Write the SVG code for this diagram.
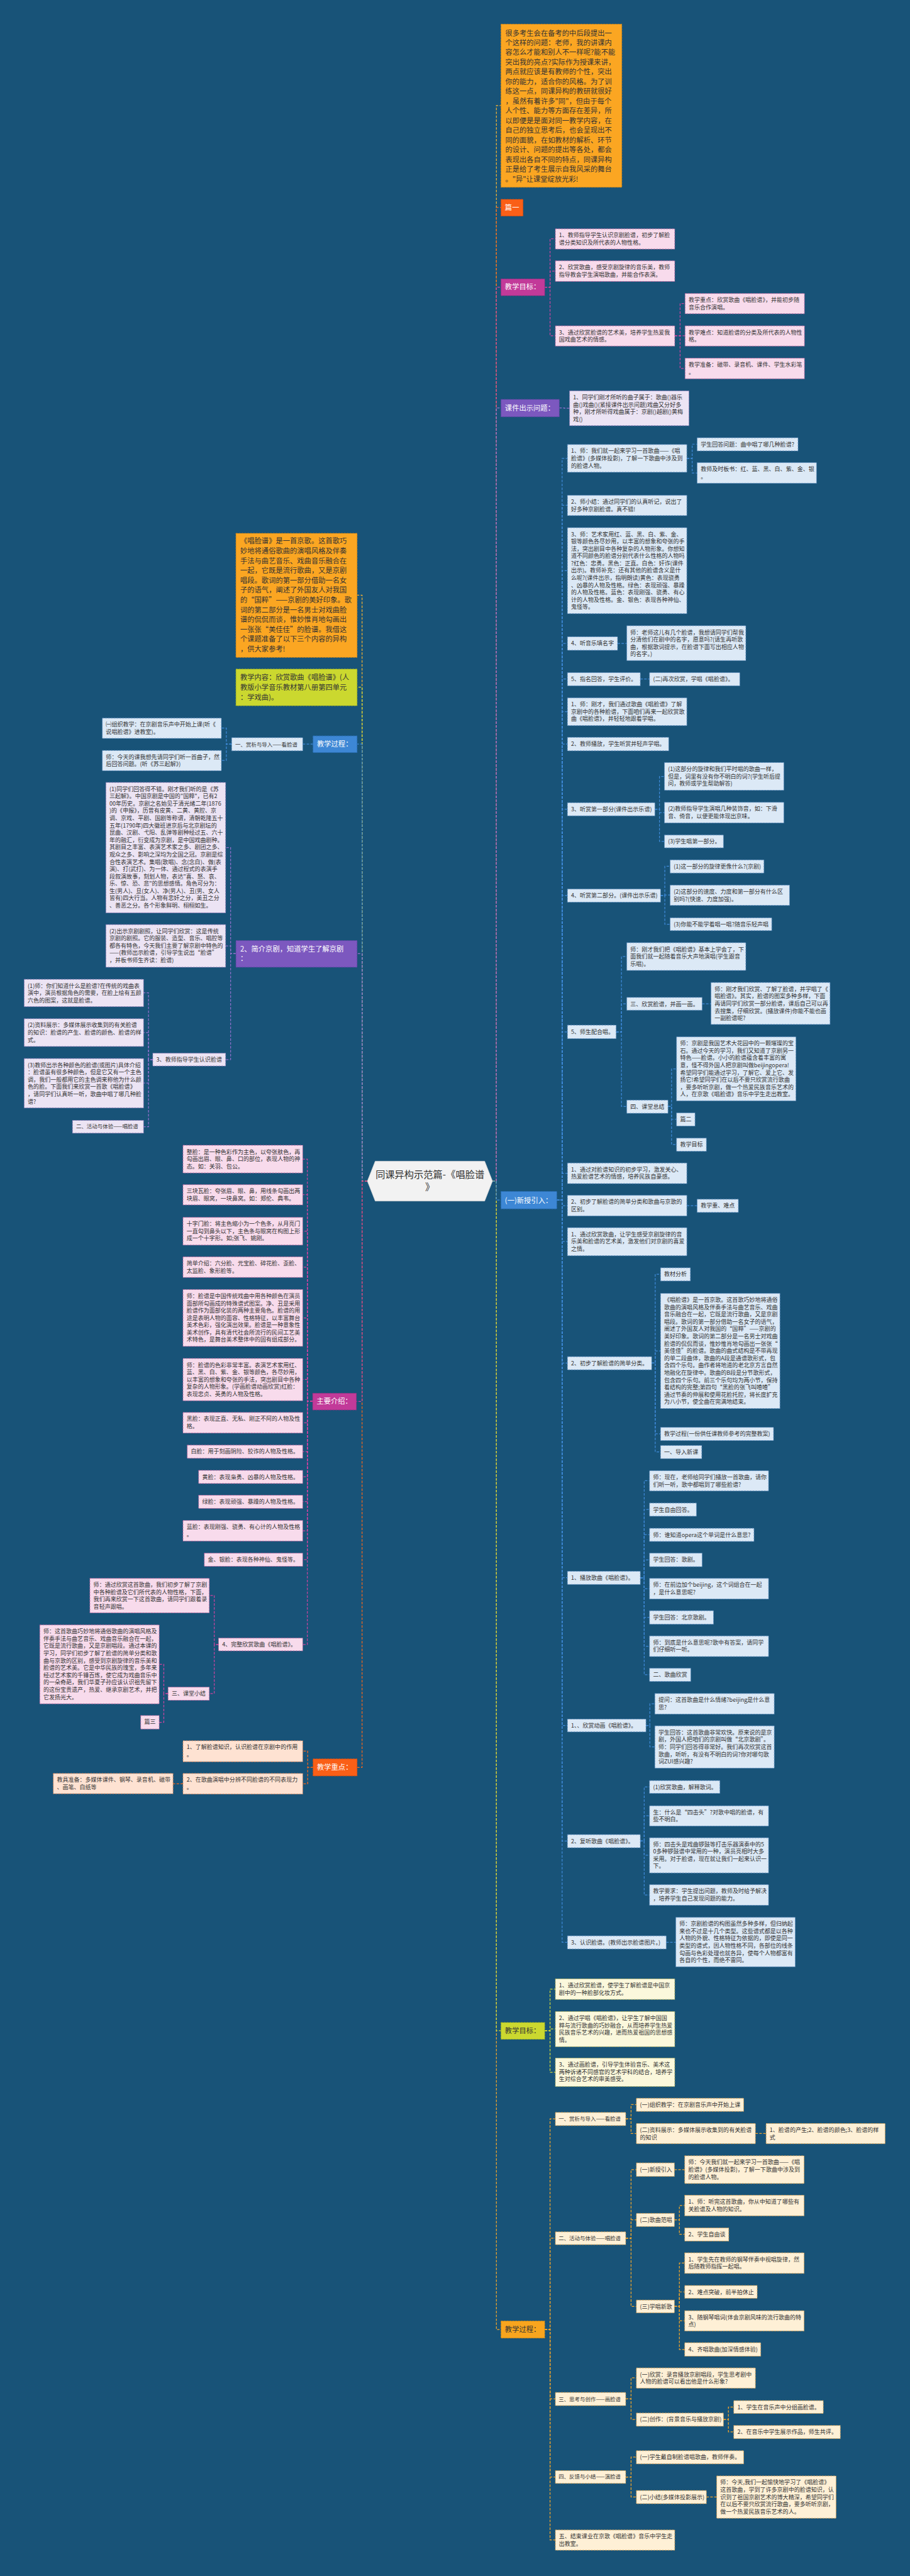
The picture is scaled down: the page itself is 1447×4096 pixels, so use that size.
<svg xmlns="http://www.w3.org/2000/svg" width="1447" height="4096" viewBox="0 0 1447 4096">
<style>
text{font-family:"Noto Sans CJK SC","Noto Sans CJK JP","Noto Sans",sans-serif;font-size:16px;fill:#333}
.w{fill:#fff}
.h{font-size:20px}
.m{font-size:15px}
.ct{font-size:27px;fill:#333}
rect{stroke-width:1.6;stroke-dasharray:5 3}
.pk{fill:#f8dbec;stroke:#b7619d}
.lb{fill:#dce9f6;stroke:#5f8fc2}
.lv{fill:#ece4f4;stroke:#8f78b8}
.ly{fill:#fbf8dc;stroke:#b3b25c}
.cr{fill:#fef0d6;stroke:#d49c4e}
.pc{fill:#fee2d2;stroke:#d6845a}
.f-or{fill:#fba622;stroke:#dd8a12}
.f-rd{fill:#fa5f17;stroke:#d94a0c}
.f-mg{fill:#c23a99;stroke:#a02a80}
.f-pu{fill:#7c58bf;stroke:#6342a3}
.f-bl{fill:#3d87d5;stroke:#2a6fb8}
.f-yg{fill:#cbd82f;stroke:#a9b61e}
.f-og{fill:#f8a51e;stroke:#d98b10}
.cn path{fill:none;stroke-width:2.2;stroke-dasharray:7 4}
.k-or path{stroke:#f2b134}
.k-rd path{stroke:#f4661c}
.k-mg path{stroke:#c9449f}
.k-pu path{stroke:#9070cc}
.k-bl path{stroke:#3f8ad8}
.k-yg path{stroke:#cdd83a}
.k-og path{stroke:#f3a52a}
</style>
<rect x="0" y="0" width="1447" height="4096" fill="#185378" style="stroke:none"/>
<g transform="scale(0.565)">

<g id="connectors" class="cn">
<g class="k-or"><path d="M1386 3324H1397V297H1410"/><path d="M1034 3324H1019V1675H1005"/></g>
<g class="k-rd"><path d="M1386 3324H1397V584H1410"/></g>
<g class="k-mg"><path d="M1386 3324H1397V808H1410"/>
<path d="M1533 808H1548V672H1563"/><path d="M1533 808H1548V763H1563"/><path d="M1533 808H1548V945H1563"/>
<path d="M1899 945H1914V854H1928"/><path d="M1899 945H1914V945H1928"/><path d="M1899 945H1914V1037H1928"/></g>
<g class="k-pu"><path d="M1386 3324H1397V1148H1410"/><path d="M1574 1148H1588V1149H1603"/></g>
<g class="k-yg"><path d="M1034 3324H1019V1934H1005"/></g>
<g class="k-bl"><path d="M1034 3324H1019V2094H1005"/><path d="M881 2094H852"/>
<path d="M652 2094H637V2049H623"/><path d="M652 2094H637V2140H623"/></g>
<g class="k-pu"><path d="M1034 3324H1019V2684H1005"/>
<path d="M664 2684H649V2385H635"/><path d="M664 2684H649V2662H635"/><path d="M664 2684H649V2982H635"/>
<path d="M430 2982H418V2794H404"/><path d="M430 2982H418V2906H404"/><path d="M430 2982H418V3048H404"/><path d="M430 2982H418V3171H404"/></g>
<g class="k-rd"><path d="M1034 3324H1019V4974H1005"/>
<path d="M881 4974H866V4928H852"/><path d="M881 4974H866V5020H852"/><path d="M515 5020H487"/></g>
<g class="k-mg"><path d="M1034 3324H1019V3944H1003"/>
<path d="M880 3944H865V3262H852"/><path d="M880 3944H865V3362H852"/><path d="M880 3944H865V3465H852"/><path d="M880 3944H865V3566H852"/><path d="M880 3944H865V3709H852"/><path d="M880 3944H865V3882H852"/><path d="M880 3944H865V4004H852"/><path d="M880 3944H865V4085H852"/><path d="M880 3944H865V4156H852"/><path d="M880 3944H865V4226H852"/><path d="M880 3944H865V4308H852"/><path d="M880 3944H865V4389H852"/><path d="M880 3944H865V4628H852"/>
<path d="M615 4628H603V4490H589"/><path d="M615 4628H603V4766H589"/>
<path d="M473 4766H461V4684H448"/><path d="M473 4766H461V4847H448"/></g>
<g class="k-og"><path d="M1386 3324H1397V6556H1410"/>
<path d="M1533 6556H1548V5963H1563"/><path d="M1533 6556H1548V6299H1563"/><path d="M1533 6556H1548V6751H1563"/><path d="M1533 6556H1548V6971H1563"/><path d="M1533 6556H1548V7148H1563"/>
<path d="M1761 5963H1776V5923H1791"/><path d="M1761 5963H1776V6004H1791"/><path d="M2126 6004H2156"/>
<path d="M1761 6299H1776V6106H1791"/><path d="M1761 6299H1776V6247H1791"/><path d="M1761 6299H1776V6491H1791"/>
<path d="M1898 6106H1927"/>
<path d="M1898 6247H1912V6207H1927"/><path d="M1898 6247H1912V6288H1927"/>
<path d="M1898 6491H1912V6369H1927"/><path d="M1898 6491H1912V6450H1927"/><path d="M1898 6491H1912V6531H1927"/><path d="M1898 6491H1912V6612H1927"/>
<path d="M1761 6751H1776V6692H1791"/><path d="M1761 6751H1776V6809H1791"/>
<path d="M2036 6809H2050V6774H2065"/><path d="M2036 6809H2050V6844H2065"/>
<path d="M1761 6971H1776V6915H1791"/><path d="M1761 6971H1776V7027H1791"/><path d="M1988 7027H2017"/></g>
<g class="k-yg"><path d="M1386 3324H1397V5715H1410"/>
<path d="M1533 5715H1548V5598H1563"/><path d="M1533 5715H1548V5710H1563"/><path d="M1533 5715H1548V5832H1563"/></g>
<g class="k-bl"><path d="M1386 3324H1397V3377H1410"/>
<path d="M1567 3377H1582V1290H1597"/><path d="M1567 3377H1582V1422H1597"/><path d="M1567 3377H1582V1606H1597"/><path d="M1567 3377H1582V1811H1597"/><path d="M1567 3377H1582V1911H1597"/><path d="M1567 3377H1582V2003H1597"/><path d="M1567 3377H1582V2094H1597"/><path d="M1567 3377H1582V2277H1597"/><path d="M1567 3377H1582V2520H1597"/><path d="M1567 3377H1582V2904H1597"/><path d="M1567 3377H1582V3302H1597"/><path d="M1567 3377H1582V3393H1597"/><path d="M1567 3377H1582V3494H1597"/><path d="M1567 3377H1582V3836H1597"/><path d="M1567 3377H1582V4440H1597"/><path d="M1567 3377H1582V4856H1597"/><path d="M1567 3377H1582V5181H1597"/><path d="M1567 3377H1582V5466H1597"/>
<path d="M1933 1290H1948V1250H1962"/><path d="M1933 1290H1948V1331H1962"/>
<path d="M1738 1811H1764"/>
<path d="M1802 1911H1828"/>
<path d="M1843 2277H1856V2185H1870"/><path d="M1843 2277H1856V2287H1870"/><path d="M1843 2277H1856V2368H1870"/>
<path d="M1859 2520H1871V2438H1886"/><path d="M1859 2520H1871V2519H1886"/><path d="M1859 2520H1871V2601H1886"/>
<path d="M1734 2904H1749V2692H1764"/><path d="M1734 2904H1749V2825H1764"/><path d="M1734 2904H1749V3114H1764"/>
<path d="M1976 2825H2001"/>
<path d="M1880 3114H1890V3008H1904"/><path d="M1880 3114H1890V3150H1904"/><path d="M1880 3114H1890V3221H1904"/>
<path d="M1933 3393H1962"/>
<path d="M1834 3836H1844V3586H1859"/><path d="M1834 3836H1844V3802H1859"/><path d="M1834 3836H1844V4035H1859"/><path d="M1834 3836H1844V4086H1859"/>
<path d="M1802 4440H1813V4167H1828"/><path d="M1802 4440H1813V4248H1828"/><path d="M1802 4440H1813V4319H1828"/><path d="M1802 4440H1813V4390H1828"/><path d="M1802 4440H1813V4471H1828"/><path d="M1802 4440H1813V4552H1828"/><path d="M1802 4440H1813V4633H1828"/><path d="M1802 4440H1813V4713H1828"/>
<path d="M1818 4856H1829V4795H1843"/><path d="M1818 4856H1829V4916H1843"/>
<path d="M1802 5181H1813V5029H1828"/><path d="M1802 5181H1813V5110H1828"/><path d="M1802 5181H1813V5221H1828"/><path d="M1802 5181H1813V5333H1828"/>
<path d="M1875 5466H1902"/></g>
</g>

<g id="root"><polygon points="1056,3268 1364,3268 1386,3324 1364,3380 1056,3380 1034,3324" fill="#f2f2f2" stroke="#d8d8d8" stroke-width="1.5"/>
<text class="ct" x="1210" y="3315" text-anchor="middle">同课异构示范篇-《唱脸谱<tspan x="1210" dy="36">》</tspan></text></g>

<g id="n-intro"><rect class="f-or" x="1410" y="68" width="340" height="459"/>
<text class="h" x="1422" y="100">很多考生会在备考的中后段提出一<tspan x="1422" dy="27.4">个这样的问题：老师，我的讲课内</tspan><tspan x="1422" dy="27.4">容怎么才能和别人不一样呢?能不能</tspan><tspan x="1422" dy="27.4">突出我的亮点?实际作为授课来讲，</tspan><tspan x="1422" dy="27.4">两点就应该是有教师的个性，突出</tspan><tspan x="1422" dy="27.4">你的能力，适合你的风格。为了训</tspan><tspan x="1422" dy="27.4">练这一点，同课异构的教研就很好</tspan><tspan x="1422" dy="27.4">，虽然有着许多"同"，但由于每个</tspan><tspan x="1422" dy="27.4">人个性、能力等方面存在差异，所</tspan><tspan x="1422" dy="27.4">以即便是是面对同一教学内容，在</tspan><tspan x="1422" dy="27.4">自己的独立思考后，也会呈现出不</tspan><tspan x="1422" dy="27.4">同的面貌，在如教材的解析、环节</tspan><tspan x="1422" dy="27.4">的设计、问题的提出等各处，都会</tspan><tspan x="1422" dy="27.4">表现出各自不同的特点，同课异构</tspan><tspan x="1422" dy="27.4">正是给了考生展示自我风采的舞台</tspan><tspan x="1422" dy="27.4">。"异"让课堂绽放光彩!</tspan></text></g>
<g id="n-p1"><rect class="f-rd" x="1410" y="561" width="62" height="47"/><text class="h w" x="1421" y="591">篇一</text></g>
<g id="n-goal1"><rect class="f-mg" x="1410" y="785" width="123" height="47"/><text class="h w" x="1421" y="815">教学目标：</text></g>
<g id="n-g1a"><rect class="pk" x="1563" y="644" width="336" height="57"/><text x="1573" y="668">1、教师指导学生认识京剧脸谱，初步了解脸<tspan x="1573" dy="20.5">谱分类知识及所代表的人物性格。</tspan></text></g>
<g id="n-g1b"><rect class="pk" x="1563" y="734" width="336" height="58"/><text x="1573" y="758">2、欣赏歌曲，感受京剧旋律的音乐美，教师<tspan x="1573" dy="20.5">指导教会学生演唱歌曲，并能合作表演。</tspan></text></g>
<g id="n-g1c"><rect class="pk" x="1563" y="917" width="336" height="57"/><text x="1573" y="941">3、通过欣赏脸谱的艺术美，培养学生热爱我<tspan x="1573" dy="20.5">国戏曲艺术的情感。</tspan></text></g>
<g id="n-g1c1"><rect class="pk" x="1928" y="826" width="336" height="57"/><text x="1938" y="850">教学重点：欣赏歌曲《唱脸谱》，并能初步随<tspan x="1938" dy="20.5">音乐合作演唱。</tspan></text></g>
<g id="n-g1c2"><rect class="pk" x="1928" y="917" width="336" height="57"/><text x="1938" y="941">教学难点：知道脸谱的分类及所代表的人物性<tspan x="1938" dy="20.5">格。</tspan></text></g>
<g id="n-g1c3"><rect class="pk" x="1928" y="1008" width="336" height="58"/><text x="1938" y="1032">教学准备：磁带、录音机、课件、学生水彩笔<tspan x="1938" dy="20.5">。</tspan></text></g>

<g id="n-kj"><rect class="f-pu" x="1410" y="1124" width="164" height="49"/><text class="h w" x="1421" y="1156">课件出示问题：</text></g>
<g id="n-kj1"><rect class="lv" x="1603" y="1100" width="336" height="98"/><text x="1613" y="1124">1、同学们刚才所听的曲子属于：歌曲()器乐<tspan x="1613" dy="20.5">曲()戏曲()(紧接课件出示问题)戏曲又分好多</tspan><tspan x="1613" dy="20.5">种，刚才所听得戏曲属于：京剧()越剧()黄梅</tspan><tspan x="1613" dy="20.5">戏()</tspan></text></g>

<g id="n-xs"><rect class="f-bl" x="1410" y="3353" width="157" height="49"/><text class="h w" x="1421" y="3385">(一)新授引入：</text></g>
<g id="n-b1"><rect class="lb" x="1597" y="1251" width="336" height="78"/><text x="1607" y="1275">1、师：我们就一起来学习一首歌曲——《唱<tspan x="1607" dy="20.5">脸谱》(多媒体投影)，了解一下歌曲中涉及到</tspan><tspan x="1607" dy="20.5">的脸谱人物。</tspan></text></g>
<g id="n-b1a"><rect class="lb" x="1962" y="1232" width="284" height="37"/><text x="1972" y="1256">学生回答问题：曲中唱了哪几种脸谱?</text></g>
<g id="n-b1b"><rect class="lb" x="1962" y="1302" width="336" height="58"/><text x="1972" y="1326">教师及时板书：红、蓝、黑、白、紫、金、银<tspan x="1972" dy="20.5">。</tspan></text></g>
<g id="n-b2"><rect class="lb" x="1597" y="1394" width="336" height="57"/><text x="1607" y="1418">2、师小结：通过同学们的认真听记，说出了<tspan x="1607" dy="20.5">好多种京剧脸谱。真不错!</tspan></text></g>
<g id="n-b3"><rect class="lb" x="1597" y="1485" width="336" height="242"/><text x="1607" y="1509">3、师：艺术家用红、蓝、黑、白、紫、金、<tspan x="1607" dy="20.5">银等颜色各尽妙用，以丰富的想象和夸张的手</tspan><tspan x="1607" dy="20.5">法，突出剧目中各种复杂的人物形象。你想知</tspan><tspan x="1607" dy="20.5">道不同颜色的脸谱分别代表什么性格的人物吗</tspan><tspan x="1607" dy="20.5">?红色：忠勇。黑色：正直。白色：奸诈(课件</tspan><tspan x="1607" dy="20.5">出示)。教师补充：还有其他的脸谱含义是什</tspan><tspan x="1607" dy="20.5">么呢?(课件出示，指明朗读)黄色：表现骁勇</tspan><tspan x="1607" dy="20.5">、凶暴的人物及性格。绿色：表现顽强、暴躁</tspan><tspan x="1607" dy="20.5">的人物及性格。蓝色：表现刚强、骁勇、有心</tspan><tspan x="1607" dy="20.5">计的人物及性格。金、银色：表现各种神仙、</tspan><tspan x="1607" dy="20.5">鬼怪等。</tspan></text></g>
<g id="n-b4"><rect class="lb" x="1597" y="1792" width="141" height="38"/><text x="1607" y="1816">4、听音乐填名字</text></g>
<g id="n-b4a"><rect class="lb" x="1764" y="1761" width="335" height="98"/><text x="1774" y="1785">师：老师这儿有几个脸谱，我想请同学们帮我<tspan x="1774" dy="20.5">分清他们在剧中的名字，愿意吗?(请生再听歌</tspan><tspan x="1774" dy="20.5">曲，根据歌词提示，在脸谱下面写出相应人物</tspan><tspan x="1774" dy="20.5">的名字。)</tspan></text></g>
<g id="n-b5"><rect class="lb" x="1597" y="1893" width="205" height="37"/><text x="1607" y="1917">5、指名回答，学生评价。</text></g>
<g id="n-b5a"><rect class="lb" x="1828" y="1893" width="254" height="37"/><text x="1838" y="1917">(二)再次欣赏，学唱《唱脸谱》。</text></g>
<g id="n-b6"><rect class="lb" x="1597" y="1964" width="336" height="78"/><text x="1607" y="1988">1、师：刚才，我们通过歌曲《唱脸谱》了解<tspan x="1607" dy="20.5">京剧中的各种脸谱，下面咱们再来一起欣赏歌</tspan><tspan x="1607" dy="20.5">曲《唱脸谱》，并轻轻地跟着学唱。</tspan></text></g>
<g id="n-b7"><rect class="lb" x="1597" y="2075" width="285" height="38"/><text x="1607" y="2099">2、教师播放，学生听赏并轻声学唱。</text></g>
<g id="n-b8"><rect class="lb" x="1597" y="2259" width="246" height="37"/><text x="1607" y="2283">3、听赏第一部分(课件出示乐谱)</text></g>
<g id="n-b8a"><rect class="lb" x="1870" y="2146" width="336" height="78"/><text x="1880" y="2170">(1)这部分的旋律和我们平时唱的歌曲一样，<tspan x="1880" dy="20.5">但是，词里有没有你不明白的词?(学生听后提</tspan><tspan x="1880" dy="20.5">问，教师或学生帮助解答)</tspan></text></g>
<g id="n-b8b"><rect class="lb" x="1870" y="2258" width="336" height="58"/><text x="1880" y="2282">(2)教师指导学生演唱几种装饰音，如：下滑<tspan x="1880" dy="20.5">音、倚音，以便更能体现出京味。</tspan></text></g>
<g id="n-b8c"><rect class="lb" x="1870" y="2350" width="166" height="36"/><text x="1880" y="2374">(3)学生唱第一部分。</text></g>
<g id="n-b9"><rect class="lb" x="1597" y="2502" width="262" height="37"/><text x="1607" y="2526">4、听赏第二部分。(课件出示乐谱)</text></g>
<g id="n-b9a"><rect class="lb" x="1886" y="2420" width="264" height="37"/><text x="1896" y="2444">(1)这一部分的旋律更像什么?(京剧)</text></g>
<g id="n-b9b"><rect class="lb" x="1886" y="2491" width="336" height="57"/><text x="1896" y="2515">(2)这部分的速度、力度和第一部分有什么区<tspan x="1896" dy="20.5">别吗?(快速、力度加强)。</tspan></text></g>
<g id="n-b9c"><rect class="lb" x="1886" y="2583" width="286" height="36"/><text x="1896" y="2607">(3)你能不能学着唱一唱?随音乐轻声唱</text></g>
<g id="n-b10"><rect class="lb" x="1597" y="2885" width="137" height="38"/><text x="1607" y="2909">5、师生配合唱。</text></g>
<g id="n-b10a"><rect class="lb" x="1764" y="2653" width="335" height="78"/><text x="1774" y="2677">师：刚才我们把《唱脸谱》基本上学会了，下<tspan x="1774" dy="20.5">面我们就一起随着音乐大声地演唱(学生跟音</tspan><tspan x="1774" dy="20.5">乐唱)。</tspan></text></g>
<g id="n-b10b"><rect class="lb" x="1764" y="2807" width="212" height="36"/><text x="1774" y="2831">三、欣赏脸谱，并画一画。</text></g>
<g id="n-b10b1"><rect class="lb" x="2001" y="2765" width="335" height="118"/><text x="2011" y="2789">师：刚才我们欣赏、了解了脸谱，并学唱了《<tspan x="2011" dy="20.5">唱脸谱》。其实，脸谱的图案多种多样，下面</tspan><tspan x="2011" dy="20.5">再请同学们欣赏一部分脸谱，课后自己可以再</tspan><tspan x="2011" dy="20.5">去搜集，仔细欣赏。(播放课件)你能不能也画</tspan><tspan x="2011" dy="20.5">一副脸谱呢?</tspan></text></g>
<g id="n-b10c"><rect class="lb" x="1764" y="3096" width="116" height="37"/><text x="1774" y="3120">四、课堂总结</text></g>
<g id="n-b10c1"><rect class="lb" x="1904" y="2918" width="336" height="180"/><text x="1914" y="2942">师：京剧是我国艺术大花园中的一颗璀璨的宝<tspan x="1914" dy="20.5">石。通过今天的学习，我们又知道了京剧另一</tspan><tspan x="1914" dy="20.5">特色——脸谱。小小的脸谱蕴含着丰富的寓</tspan><tspan x="1914" dy="20.5">意，怪不得外国人把京剧叫做beijingopera!</tspan><tspan x="1914" dy="20.5">希望同学们能通过学习，了解它、爱上它、发</tspan><tspan x="1914" dy="20.5">扬它!希望同学们在以后不要只欣赏流行歌曲</tspan><tspan x="1914" dy="20.5">，要多听听京剧，做一个热爱民族音乐艺术的</tspan><tspan x="1914" dy="20.5">人，在京歌《唱脸谱》音乐中学生走出教室。</tspan></text></g>
<g id="n-b10c2"><rect class="lb" x="1904" y="3132" width="52" height="37"/><text x="1914" y="3156">篇二</text></g>
<g id="n-b10c3"><rect class="lb" x="1904" y="3203" width="84" height="37"/><text x="1914" y="3227">教学目标</text></g>
<g id="n-b11"><rect class="lb" x="1597" y="3273" width="336" height="58"/><text x="1607" y="3297">1、通过对脸谱知识的初步学习，激发关心、<tspan x="1607" dy="20.5">热爱脸谱艺术的情感，培养民族自豪感。</tspan></text></g>
<g id="n-b12"><rect class="lb" x="1597" y="3364" width="336" height="58"/><text x="1607" y="3388">2、初步了解脸谱的简单分类和歌曲与京歌的<tspan x="1607" dy="20.5">区别。</tspan></text></g>
<g id="n-b12a"><rect class="lb" x="1962" y="3375" width="116" height="37"/><text x="1972" y="3399">教学重、难点</text></g>
<g id="n-b13"><rect class="lb" x="1597" y="3455" width="336" height="79"/><text x="1607" y="3479">1、通过欣赏歌曲，让学生感受京剧旋律的音<tspan x="1607" dy="20.5">乐美和脸谱的艺术美，激发他们对京剧的喜爱</tspan><tspan x="1607" dy="20.5">之情。</tspan></text></g>
<g id="n-b14"><rect class="lb" x="1597" y="3818" width="237" height="37"/><text x="1607" y="3842">2、初步了解脸谱的简单分类。</text></g>
<g id="n-b14a"><rect class="lb" x="1859" y="3568" width="84" height="37"/><text x="1869" y="3592">教材分析</text></g>
<g id="n-b14b"><rect class="lb" x="1859" y="3640" width="336" height="324"/><text x="1869" y="3664">《唱脸谱》是一首京歌。这首歌巧妙地将通俗<tspan x="1869" dy="20.5">歌曲的演唱风格及伴奏手法与曲艺音乐、戏曲</tspan><tspan x="1869" dy="20.5">音乐融合在一起，它既是流行歌曲，又是京剧</tspan><tspan x="1869" dy="20.5">唱段。歌词的第一部分借助一名女子的语气，</tspan><tspan x="1869" dy="20.5">阐述了外国友人对我国的“国粹”——京剧的</tspan><tspan x="1869" dy="20.5">美好印象。歌词的第二部分是一名男士对戏曲</tspan><tspan x="1869" dy="20.5">脸谱的侃侃而谈，惟妙惟肖地勾画出一张张“</tspan><tspan x="1869" dy="20.5">美佳佳”的脸谱。歌曲的曲式结构是不带再现</tspan><tspan x="1869" dy="20.5">的单二段曲体，歌曲的A段是通谱歌形式，包</tspan><tspan x="1869" dy="20.5">含四个乐句。曲作者将地道的老北京方言自然</tspan><tspan x="1869" dy="20.5">地融化在旋律中。歌曲的B段是分节歌形式，</tspan><tspan x="1869" dy="20.5">包含四个乐句。前三个乐句均为两小节，保持</tspan><tspan x="1869" dy="20.5">着结构的完整;第四句“黑脸的张飞叫喳喳”</tspan><tspan x="1869" dy="20.5">通过节奏的伸展和使用花脸托腔，将长度扩充</tspan><tspan x="1869" dy="20.5">为八小节，使全曲在完满地结束。</tspan></text></g>
<g id="n-b14c"><rect class="lb" x="1859" y="4017" width="318" height="37"/><text x="1869" y="4041">教学过程(一份供任课教师参考的完整教案)</text></g>
<g id="n-b14d"><rect class="lb" x="1859" y="4068" width="116" height="37"/><text x="1869" y="4092">一、导入新课</text></g>
<g id="n-b15"><rect class="lb" x="1597" y="4422" width="205" height="37"/><text x="1607" y="4446">1、播放歌曲《唱脸谱》。</text></g>
<g id="n-b15a"><rect class="lb" x="1828" y="4139" width="335" height="57"/><text x="1838" y="4163">师：现在，老师给同学们播放一首歌曲，请你<tspan x="1838" dy="20.5">们听一听，歌中都唱到了哪些脸谱?</tspan></text></g>
<g id="n-b15b"><rect class="lb" x="1828" y="4230" width="132" height="37"/><text x="1838" y="4254">学生自由回答。</text></g>
<g id="n-b15c"><rect class="lb" x="1828" y="4301" width="294" height="37"/><text x="1838" y="4325">师：谁知道opera这个单词是什么意思?</text></g>
<g id="n-b15d"><rect class="lb" x="1828" y="4371" width="148" height="38"/><text x="1838" y="4395">学生回答：歌剧。</text></g>
<g id="n-b15e"><rect class="lb" x="1828" y="4442" width="335" height="58"/><text x="1838" y="4466">师：在前边加个beijing，这个词组合在一起<tspan x="1838" dy="20.5">，是什么意思呢?</tspan></text></g>
<g id="n-b15f"><rect class="lb" x="1828" y="4533" width="180" height="38"/><text x="1838" y="4557">学生回答：北京歌剧。</text></g>
<g id="n-b15g"><rect class="lb" x="1828" y="4604" width="335" height="58"/><text x="1838" y="4628">师：到底是什么意思呢?歌中有答案，请同学<tspan x="1838" dy="20.5">们仔细听一听。</tspan></text></g>
<g id="n-b15h"><rect class="lb" x="1828" y="4695" width="116" height="37"/><text x="1838" y="4719">二、歌曲欣赏</text></g>
<g id="n-b16"><rect class="lb" x="1597" y="4838" width="221" height="36"/><text x="1607" y="4862">1、、欣赏动画《唱脸谱》。</text></g>
<g id="n-b16a"><rect class="lb" x="1843" y="4766" width="336" height="58"/><text x="1853" y="4790">提问：这首歌曲是什么情绪?beijing是什么意<tspan x="1853" dy="20.5">思?</tspan></text></g>
<g id="n-b16b"><rect class="lb" x="1843" y="4857" width="336" height="119"/><text x="1853" y="4881">学生回答：这首歌曲非常欢快。原来说的是京<tspan x="1853" dy="20.5">剧，外国人把咱们的京剧叫做“北京歌剧”。</tspan><tspan x="1853" dy="20.5">师：同学们回答得非常好。我们再次欣赏这首</tspan><tspan x="1853" dy="20.5">歌曲，听听，有没有不明白的词?你对哪句歌</tspan><tspan x="1853" dy="20.5">词ZUI感兴趣?</tspan></text></g>
<g id="n-b17"><rect class="lb" x="1597" y="5163" width="205" height="37"/><text x="1607" y="5187">2、复听歌曲《唱脸谱》。</text></g>
<g id="n-b17a"><rect class="lb" x="1828" y="5011" width="198" height="36"/><text x="1838" y="5035">(1)欣赏歌曲，解释歌词。</text></g>
<g id="n-b17b"><rect class="lb" x="1828" y="5082" width="335" height="57"/><text x="1838" y="5106">生：什么是“四击头”?对歌中唱的脸谱，有<tspan x="1838" dy="20.5">些不明白。</tspan></text></g>
<g id="n-b17c"><rect class="lb" x="1828" y="5172" width="335" height="99"/><text x="1838" y="5196">师：四击头是戏曲锣鼓等打击乐器演奏中的5<tspan x="1838" dy="20.5">0多种锣鼓谱中常用的一种，演员亮相时大多</tspan><tspan x="1838" dy="20.5">采用。对于脸谱，现在就让我们一起来认识一</tspan><tspan x="1838" dy="20.5">下。</tspan></text></g>
<g id="n-b17d"><rect class="lb" x="1828" y="5304" width="335" height="58"/><text x="1838" y="5328">教学要求：学生提出问题，教师及时给予解决<tspan x="1838" dy="20.5">，培养学生自己发现问题的能力。</tspan></text></g>
<g id="n-b18"><rect class="lb" x="1597" y="5448" width="278" height="37"/><text x="1607" y="5472">3、认识脸谱。(教师出示脸谱图片。)</text></g>
<g id="n-b18a"><rect class="lb" x="1902" y="5396" width="336" height="139"/><text x="1912" y="5420">师：京剧脸谱的构图虽然多种多样，但归纳起<tspan x="1912" dy="20.5">来也不过是十几个类型。这些谱式都是以各种</tspan><tspan x="1912" dy="20.5">人物的外貌、性格特征为依据的，即使是同一</tspan><tspan x="1912" dy="20.5">类型的谱式，因人物性格不同，各部位的线条</tspan><tspan x="1912" dy="20.5">勾画与色彩处理也就各异，使每个人物都富有</tspan><tspan x="1912" dy="20.5">各自的个性，而绝不雷同。</tspan></text></g>

<g id="n-goal2"><rect class="f-yg" x="1410" y="5692" width="123" height="47"/><text class="h" x="1421" y="5722">教学目标：</text></g>
<g id="n-y1"><rect class="ly" x="1563" y="5569" width="336" height="58"/><text x="1573" y="5593">1、通过欣赏脸谱，使学生了解脸谱是中国京<tspan x="1573" dy="20.5">剧中的一种脸部化妆方式。</tspan></text></g>
<g id="n-y2"><rect class="ly" x="1563" y="5661" width="336" height="99"/><text x="1573" y="5685">2、通过学唱《唱脸谱》，让学生了解中国国<tspan x="1573" dy="20.5">粹与流行歌曲的巧妙融合，从而培养学生热爱</tspan><tspan x="1573" dy="20.5">民族音乐艺术的兴趣，进而热爱祖国的思想感</tspan><tspan x="1573" dy="20.5">情。</tspan></text></g>
<g id="n-y3"><rect class="ly" x="1563" y="5792" width="336" height="80"/><text x="1573" y="5816">3、通过画脸谱，引导学生体验音乐、美术这<tspan x="1573" dy="20.5">两种诉诸不同感官的艺术学科的结合，培养学</tspan><tspan x="1573" dy="20.5">生对综合艺术的审美感受。</tspan></text></g>

<g id="n-proc2"><rect class="f-og" x="1410" y="6532" width="123" height="48"/><text class="h" x="1421" y="6563">教学过程：</text></g>
<g id="n-o1"><rect class="cr" x="1563" y="5945" width="198" height="37"/><text class="m" x="1572" y="5969">一、赏析与导入——看脸谱</text></g>
<g id="n-o1a"><rect class="cr" x="1791" y="5905" width="302" height="37"/><text x="1801" y="5929">(一)组织教学：在京剧音乐声中开始上课</text></g>
<g id="n-o1b"><rect class="cr" x="1791" y="5976" width="335" height="57"/><text x="1801" y="6000">(二)资料展示：多媒体展示收集到的有关脸谱<tspan x="1801" dy="20.5">的知识</tspan></text></g>
<g id="n-o1b1"><rect class="cr" x="2156" y="5976" width="335" height="57"/><text x="2166" y="6000">1、脸谱的产生;2、脸谱的颜色;3、脸谱的样<tspan x="2166" dy="20.5">式</tspan></text></g>
<g id="n-o2"><rect class="cr" x="1563" y="6281" width="198" height="36"/><text class="m" x="1572" y="6304">二、活动与体验——唱脸谱</text></g>
<g id="n-o2a"><rect class="cr" x="1791" y="6087" width="107" height="38"/><text x="1801" y="6111">(一)新授引入</text></g>
<g id="n-o2a1"><rect class="cr" x="1927" y="6067" width="336" height="78"/><text x="1937" y="6091">师：今天我们就一起来学习一首歌曲——《唱<tspan x="1937" dy="20.5">脸谱》(多媒体投影)，了解一下歌曲中涉及到</tspan><tspan x="1937" dy="20.5">的脸谱人物。</tspan></text></g>
<g id="n-o2b"><rect class="cr" x="1791" y="6229" width="107" height="37"/><text x="1801" y="6253">(二)歌曲范唱</text></g>
<g id="n-o2b1"><rect class="cr" x="1927" y="6178" width="336" height="58"/><text x="1937" y="6202">1、师：听完这首歌曲，你从中知道了哪些有<tspan x="1937" dy="20.5">关脸谱及人物的知识。</tspan></text></g>
<g id="n-o2b2"><rect class="cr" x="1927" y="6270" width="124" height="37"/><text x="1937" y="6294">2、学生自由谈</text></g>
<g id="n-o2c"><rect class="cr" x="1791" y="6473" width="107" height="36"/><text x="1801" y="6497">(三)学唱新歌</text></g>
<g id="n-o2c1"><rect class="cr" x="1927" y="6340" width="336" height="58"/><text x="1937" y="6364">1、学生先在教师的钢琴伴奏中视唱旋律，然<tspan x="1937" dy="20.5">后随教师指挥一起唱。</tspan></text></g>
<g id="n-o2c2"><rect class="cr" x="1927" y="6432" width="204" height="36"/><text x="1937" y="6456">2、难点突破，前半拍休止</text></g>
<g id="n-o2c3"><rect class="cr" x="1927" y="6503" width="336" height="57"/><text x="1937" y="6527">3、随钢琴唱词(体会京剧风味的流行歌曲的特<tspan x="1937" dy="20.5">点)</tspan></text></g>
<g id="n-o2c4"><rect class="cr" x="1927" y="6593" width="214" height="38"/><text x="1937" y="6617">4、齐唱歌曲(加深情感体验)</text></g>
<g id="n-o3"><rect class="cr" x="1563" y="6733" width="198" height="37"/><text class="m" x="1572" y="6757">三、思考与创作——画脸谱</text></g>
<g id="n-o3a"><rect class="cr" x="1791" y="6664" width="335" height="57"/><text x="1801" y="6688">(一)欣赏：录音播放京剧唱段，学生思考剧中<tspan x="1801" dy="20.5">人物的脸谱可以看出他是什么形象?</tspan></text></g>
<g id="n-o3b"><rect class="cr" x="1791" y="6791" width="245" height="37"/><text x="1801" y="6815">(二)创作：(背景音乐与播放京剧)</text></g>
<g id="n-o3b1"><rect class="cr" x="2065" y="6756" width="252" height="36"/><text x="2075" y="6780">1、学生在音乐声中分组画脸谱。</text></g>
<g id="n-o3b2"><rect class="cr" x="2065" y="6826" width="300" height="37"/><text x="2075" y="6850">2、在音乐中学生展示作品，师生共评。</text></g>
<g id="n-o4"><rect class="cr" x="1563" y="6953" width="198" height="36"/><text class="m" x="1572" y="6976">四、反馈与小结——演脸谱</text></g>
<g id="n-o4a"><rect class="cr" x="1791" y="6897" width="302" height="37"/><text x="1801" y="6921">(一)学生戴自制脸谱唱歌曲，教师伴奏。</text></g>
<g id="n-o4b"><rect class="cr" x="1791" y="7009" width="197" height="37"/><text x="1801" y="7033">(二)小结(多媒体投影展示)</text></g>
<g id="n-o4b1"><rect class="cr" x="2017" y="6968" width="336" height="119"/><text x="2027" y="6992">师：今天,我们一起愉快地学习了《唱脸谱》<tspan x="2027" dy="20.5">这首歌曲，学到了许多京剧中的脸谱知识，认</tspan><tspan x="2027" dy="20.5">识到了祖国京剧艺术的博大精深，希望同学们</tspan><tspan x="2027" dy="20.5">在以后不要只欣赏流行歌曲，要多听听京剧，</tspan><tspan x="2027" dy="20.5">做一个热爱民族音乐艺术的人。</tspan></text></g>
<g id="n-o5"><rect class="cr" x="1563" y="7120" width="336" height="57"/><text x="1573" y="7144">五、结束课业在京歌《唱脸谱》音乐中学生走<tspan x="1573" dy="20.5">出教室。</tspan></text></g>

<g id="n-l0"><rect class="f-or" x="664" y="1501" width="341" height="349"/>
<text class="h" x="676" y="1530">《唱脸谱》是一首京歌。这首歌巧<tspan x="676" dy="27.6">妙地将通俗歌曲的演唱风格及伴奏</tspan><tspan x="676" dy="27.6">手法与曲艺音乐、戏曲音乐融合在</tspan><tspan x="676" dy="27.6">一起，它既是流行歌曲，又是京剧</tspan><tspan x="676" dy="27.6">唱段。歌词的第一部分借助一名女</tspan><tspan x="676" dy="27.6">子的语气，阐述了外国友人对我国</tspan><tspan x="676" dy="27.6">的“国粹”——京剧的美好印象。歌</tspan><tspan x="676" dy="27.6">词的第二部分是一名男士对戏曲脸</tspan><tspan x="676" dy="27.6">谱的侃侃而谈，惟妙惟肖地勾画出</tspan><tspan x="676" dy="27.6">一张张“美佳佳”的脸谱。我借这</tspan><tspan x="676" dy="27.6">个课题准备了以下三个内容的异构</tspan><tspan x="676" dy="27.6">，供大家参考!</tspan></text></g>
<g id="n-l1"><rect class="f-yg" x="664" y="1883" width="341" height="103"/>
<text class="h" x="676" y="1914">教学内容：欣赏歌曲《唱脸谱》(人<tspan x="676" dy="27.6">教版小学音乐教材第八册第四单元</tspan><tspan x="676" dy="27.6">：学戏曲)。</tspan></text></g>
<g id="n-l2"><rect class="f-bl" x="881" y="2071" width="124" height="47"/><text class="h w" x="892" y="2101">教学过程：</text></g>
<g id="n-lb1"><rect class="lb" x="652" y="2076" width="200" height="37"/><text class="m" x="662" y="2100">一、赏析与导入——看脸谱</text></g>
<g id="n-lb1a"><rect class="lb" x="288" y="2021" width="335" height="57"/><text x="298" y="2045">㈠组织教学：在京剧音乐声中开始上课(听《<tspan x="298" dy="20.5">说唱脸谱》进教室)。</tspan></text></g>
<g id="n-lb1b"><rect class="lb" x="288" y="2112" width="335" height="57"/><text x="298" y="2136">师：今天的课我想先请同学们听一首曲子，然<tspan x="298" dy="20.5">后回答问题。(听《苏三起解》)</tspan></text></g>
<g id="n-l3"><rect class="f-pu" x="664" y="2647" width="341" height="75"/><text class="h w" x="676" y="2677">2、简介京剧，知道学生了解京剧<tspan x="676" dy="27.6">：</tspan></text></g>
<g id="n-lv1"><rect class="lv" x="298" y="2202" width="337" height="367"/><text x="308" y="2226">(1)同学们回答得不错。刚才我们听的是《苏<tspan x="308" dy="20.5">三起解》。中国京剧是中国的"国粹"，已有2</tspan><tspan x="308" dy="20.5">00年历史。京剧之名始见于清光绪二年(1876</tspan><tspan x="308" dy="20.5">)的《申报》，历曾有皮黄、二黄、黄腔、京</tspan><tspan x="308" dy="20.5">调、京戏、平剧、国剧等称谓，清朝乾隆五十</tspan><tspan x="308" dy="20.5">五年(1790年)四大徽班进京后与北京剧坛的</tspan><tspan x="308" dy="20.5">昆曲、汉剧、弋阳、乱弹等剧种经过五、六十</tspan><tspan x="308" dy="20.5">年的融汇，衍变成为京剧，是中国戏曲剧种。</tspan><tspan x="308" dy="20.5">其剧目之丰富、表演艺术家之多、剧团之多、</tspan><tspan x="308" dy="20.5">观众之多、影响之深均为全国之冠。京剧是综</tspan><tspan x="308" dy="20.5">合性表演艺术。集唱(歌唱)、念(念白)、做(表</tspan><tspan x="308" dy="20.5">演)、打(武打)、为一体、通过程式的表演手</tspan><tspan x="308" dy="20.5">段叙演故事，刻划人物，表达"喜、怒、哀、</tspan><tspan x="308" dy="20.5">乐、惊、恐、悲"的思想感情。角色可分为：</tspan><tspan x="308" dy="20.5">生(男人)、旦(女人)、净(男人)、丑(男、女人</tspan><tspan x="308" dy="20.5">皆有)四大行当。人物有忠奸之分，美丑之分</tspan><tspan x="308" dy="20.5">、善恶之分。各个形象鲜明、栩栩如生。</tspan></text></g>
<g id="n-lv2"><rect class="lv" x="298" y="2602" width="337" height="120"/><text x="308" y="2626">(2)出示京剧剧照，让同学们欣赏：这是传统<tspan x="308" dy="20.5">京剧的剧照。它的服装、造型、音乐、唱腔等</tspan><tspan x="308" dy="20.5">都各有特色，今天我们主要了解京剧中特色的</tspan><tspan x="308" dy="20.5">——(教师出示脸谱，引导学生说出“脸谱”</tspan><tspan x="308" dy="20.5">，并板书师生齐读：脸谱)</tspan></text></g>
<g id="n-lv3"><rect class="lv" x="430" y="2964" width="205" height="36"/><text x="440" y="2988">3、教师指导学生认识脸谱</text></g>
<g id="n-lv3a"><rect class="lv" x="68" y="2756" width="336" height="77"/><text x="78" y="2780">(1)师：你们知道什么是脸谱?在传统的戏曲表<tspan x="78" dy="20.5">演中，演员根据角色的需要，在脸上绘有五颜</tspan><tspan x="78" dy="20.5">六色的图案，这就是脸谱。</tspan></text></g>
<g id="n-lv3b"><rect class="lv" x="68" y="2867" width="336" height="78"/><text x="78" y="2891">(2)资料展示：多媒体展示收集到的有关脸谱<tspan x="78" dy="20.5">的知识：脸谱的产生、脸谱的颜色、脸谱的样</tspan><tspan x="78" dy="20.5">式。</tspan></text></g>
<g id="n-lv3c"><rect class="lv" x="68" y="2979" width="336" height="139"/><text x="78" y="3003">(3)教师出示各种颜色的脸谱(或图片)具体介绍<tspan x="78" dy="20.5">：脸谱虽有很多种颜色，但是它又有一个主色</tspan><tspan x="78" dy="20.5">调，我们一般都用它的主色调来称他为什么颜</tspan><tspan x="78" dy="20.5">色的脸。下面我们来欣赏一首歌《唱脸谱》</tspan><tspan x="78" dy="20.5">，请同学们认真听一听，歌曲中唱了哪几种脸</tspan><tspan x="78" dy="20.5">谱?</tspan></text></g>
<g id="n-lv3d"><rect class="lv" x="204" y="3153" width="200" height="36"/><text class="m" x="214" y="3176">二、活动与体验——唱脸谱</text></g>

<g id="n-l4"><rect class="f-mg" x="880" y="3921" width="123" height="47"/><text class="h w" x="891" y="3951">主要介绍：</text></g>
<g id="n-m1"><rect class="pk" x="515" y="3223" width="337" height="78"/><text x="525" y="3247">整脸：是一种色彩作为主色，以夸张肤色，再<tspan x="525" dy="20.5">勾画出眉、眼、鼻、口的部位，表现人物的神</tspan><tspan x="525" dy="20.5">态。如：关羽、包公。</tspan></text></g>
<g id="n-m2"><rect class="pk" x="515" y="3334" width="337" height="57"/><text x="525" y="3358">三块瓦脸：夸张眉、眼、鼻，用线条勾画出两<tspan x="525" dy="20.5">块眉、眼窝，一块鼻窝。如：郑伦、典韦。</tspan></text></g>
<g id="n-m3"><rect class="pk" x="515" y="3426" width="337" height="78"/><text x="525" y="3450">十字门脸：将主色缩小为一个色条，从月亮门<tspan x="525" dy="20.5">一直勾到鼻头以下，主色条与眼窝在构图上形</tspan><tspan x="525" dy="20.5">成一个十字形。如;张飞、姚刚。</tspan></text></g>
<g id="n-m4"><rect class="pk" x="515" y="3537" width="337" height="58"/><text x="525" y="3561">简单介绍：六分脸、元宝脸、碎花脸、歪脸、<tspan x="525" dy="20.5">太监脸、象形脸等。</tspan></text></g>
<g id="n-m5"><rect class="pk" x="515" y="3629" width="337" height="160"/><text x="525" y="3653">师：脸谱是中国传统戏曲中用各种颜色在演员<tspan x="525" dy="20.5">面部所勾画成的特殊谱式图案。净、丑是采用</tspan><tspan x="525" dy="20.5">脸谱作为面部化装的两种主要角色。脸谱的用</tspan><tspan x="525" dy="20.5">途是表明人物的面容、性格特征，以丰富舞台</tspan><tspan x="525" dy="20.5">美术色彩，强化演出效果。脸谱是一种意象性</tspan><tspan x="525" dy="20.5">美术创作，具有清代社会所流行的民间工艺美</tspan><tspan x="525" dy="20.5">术特色，是舞台美术整体中的固有组成部分。</tspan></text></g>
<g id="n-m6"><rect class="pk" x="515" y="3823" width="337" height="119"/><text x="525" y="3847">师：脸谱的色彩非常丰富。表演艺术家用红、<tspan x="525" dy="20.5">蓝、黑、白、紫、金、银等颜色，各尽妙用，</tspan><tspan x="525" dy="20.5">以丰富的想象和夸张的手法，突出剧目中各种</tspan><tspan x="525" dy="20.5">复杂的人物形象。(学画脸谱动画欣赏)红脸：</tspan><tspan x="525" dy="20.5">表现忠贞、英勇的人物及性格。</tspan></text></g>
<g id="n-m7"><rect class="pk" x="515" y="3975" width="337" height="58"/><text x="525" y="3999">黑脸：表现正直、无私、刚正不阿的人物及性<tspan x="525" dy="20.5">格。</tspan></text></g>
<g id="n-m8"><rect class="pk" x="527" y="4067" width="325" height="37"/><text x="537" y="4091">白脸：用于刻画阴险、狡诈的人物及性格。</text></g>
<g id="n-m9"><rect class="pk" x="559" y="4138" width="293" height="37"/><text x="569" y="4162">黄脸：表现枭勇、凶暴的人物及性格。</text></g>
<g id="n-m10"><rect class="pk" x="559" y="4208" width="293" height="37"/><text x="569" y="4232">绿脸：表现顽强、暴躁的人物及性格。</text></g>
<g id="n-m11"><rect class="pk" x="515" y="4279" width="337" height="58"/><text x="525" y="4303">蓝脸：表现刚强、骁勇、有心计的人物及性格<tspan x="525" dy="20.5">。</tspan></text></g>
<g id="n-m12"><rect class="pk" x="575" y="4371" width="277" height="37"/><text x="585" y="4395">金、银脸：表现各种神仙、鬼怪等。</text></g>
<g id="n-m13"><rect class="pk" x="615" y="4610" width="237" height="36"/><text x="625" y="4634">4、完整欣赏歌曲《唱脸谱》。</text></g>
<g id="n-m13a"><rect class="pk" x="253" y="4442" width="336" height="97"/><text x="263" y="4466">师：通过欣赏这首歌曲，我们初步了解了京剧<tspan x="263" dy="20.5">中各种脸谱及它们所代表的人物性格，下面，</tspan><tspan x="263" dy="20.5">我们再来欣赏一下这首歌曲，请同学们跟着录</tspan><tspan x="263" dy="20.5">音轻声跟唱。</tspan></text></g>
<g id="n-m13b"><rect class="pk" x="473" y="4748" width="116" height="37"/><text x="483" y="4772">三、课堂小结</text></g>
<g id="n-m13b1"><rect class="pk" x="112" y="4573" width="336" height="222"/><text x="122" y="4597">师：这首歌曲巧妙地将通俗歌曲的演唱风格及<tspan x="122" dy="20.5">伴奏手法与曲艺音乐、戏曲音乐融合在一起，</tspan><tspan x="122" dy="20.5">它既是流行歌曲，又是京剧唱段。通过本课的</tspan><tspan x="122" dy="20.5">学习，同学们初步了解了脸谱的简单分类和歌</tspan><tspan x="122" dy="20.5">曲与京歌的区别，感受到京剧旋律的音乐美和</tspan><tspan x="122" dy="20.5">脸谱的艺术美。它是中华民族的瑰宝，多年来</tspan><tspan x="122" dy="20.5">经过艺术家的千锤百炼，使它成为戏曲音乐中</tspan><tspan x="122" dy="20.5">的一朵奇葩，我们华夏子孙应该认识祖先留下</tspan><tspan x="122" dy="20.5">的这份宝贵遗产，热爱、继承京剧艺术，并把</tspan><tspan x="122" dy="20.5">它发扬光大。</tspan></text></g>
<g id="n-m13b2"><rect class="pk" x="396" y="4828" width="52" height="38"/><text x="406" y="4852">篇三</text></g>

<g id="n-l5"><rect class="f-rd" x="881" y="4950" width="124" height="48"/><text class="h w" x="892" y="4981">教学重点：</text></g>
<g id="n-t1"><rect class="pc" x="515" y="4899" width="337" height="59"/><text x="525" y="4923">1、了解脸谱知识，认识脸谱在京剧中的作用<tspan x="525" dy="20.5">。</tspan></text></g>
<g id="n-t2"><rect class="pc" x="515" y="4991" width="337" height="58"/><text x="525" y="5015">2、在歌曲演唱中分辨不同脸谱的不同表现力<tspan x="525" dy="20.5">。</tspan></text></g>
<g id="n-t2a"><rect class="pc" x="150" y="4991" width="337" height="57"/><text x="160" y="5015">教具准备：多媒体课件、钢琴、录音机、磁带<tspan x="160" dy="20.5">、画笔、白纸等</tspan></text></g>
</g>
</svg>
